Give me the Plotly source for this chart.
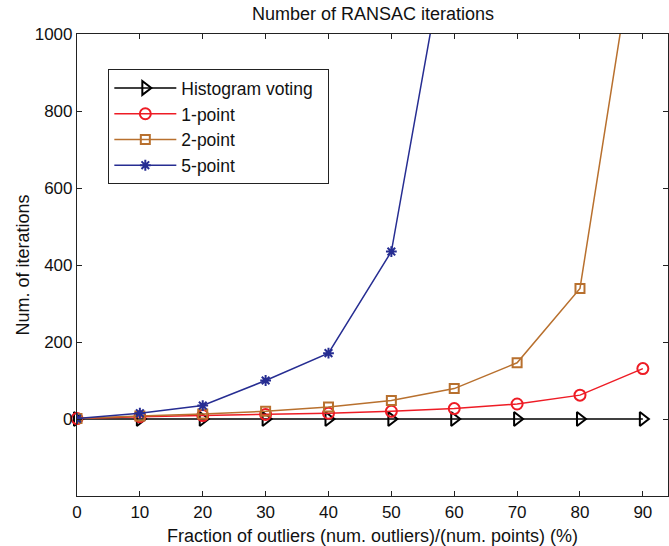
import plotly.graph_objects as go

x_vals = [0, 10, 20, 30, 40, 50, 60, 70, 80, 90]
hist_voting = [0, 0, 0, 0, 0, 0, 0, 0, 0, 0]
one_point = [1, 6, 9, 12, 15, 20, 27, 39, 62, 131]
two_point = [1, 8, 13, 20, 31, 48, 79, 146, 339, 1375]
five_point = [1, 15, 35, 100, 171, 435, 1350, 5700, 43000, 1400000]
y_ticks = [0, 200, 400, 600, 800, 1000]
x_ticks = [0, 10, 20, 30, 40, 50, 60, 70, 80, 90]

FONT = "Liberation Sans, Arial, sans-serif"

fig = go.Figure()
fig.add_trace(go.Scatter(x=x_vals, y=hist_voting, name="Histogram voting\u00a0\u00a0", mode="lines+markers",
                         line=dict(color="#000000", width=1.5),
                         marker=dict(symbol="triangle-right-open", size=12, color="#000000",
                                     line=dict(width=2, color="#000000")),
                         cliponaxis=False))
fig.add_trace(go.Scatter(x=x_vals, y=one_point, name="1-point", mode="lines+markers",
                         line=dict(color="#ee1c25", width=1.5),
                         marker=dict(symbol="circle-open", size=11, color="#ee1c25",
                                     line=dict(width=2, color="#ee1c25")),
                         cliponaxis=False))
fig.add_trace(go.Scatter(x=x_vals, y=two_point, name="2-point", mode="lines+markers",
                         line=dict(color="#b8702e", width=1.5),
                         marker=dict(symbol="square-open", size=9, color="#b8702e",
                                     line=dict(width=2, color="#b8702e")),
                         cliponaxis=True))
fig.add_trace(go.Scatter(x=x_vals, y=five_point, name="5-point", mode="lines+markers",
                         line=dict(color="#262d92", width=1.5),
                         marker=dict(symbol="asterisk-open", size=9, color="#262d92",
                                     line=dict(width=2, color="#262d92")),
                         cliponaxis=True))

axis_common = dict(showline=True, linecolor="#222222", linewidth=1.2, mirror="ticks",
                   ticks="inside", ticklen=5, tickcolor="#222222", showgrid=False,
                   zeroline=False, automargin=False,
                   tickfont=dict(family=FONT, size=17, color="#111111"))

fig.update_layout(
    width=669, height=546,
    margin=dict(l=77, r=1, t=34, b=50),
    paper_bgcolor="white", plot_bgcolor="white",
    title=dict(text="Number of RANSAC iterations", x=373 / 669, xref="container", xanchor="center",
               y=1 - 14 / 546, yref="container", yanchor="middle",
               font=dict(family=FONT, size=18, color="#111111")),
    xaxis=dict(range=[0, 94], tickvals=x_ticks,
               title=dict(text="Fraction of outliers (num. outliers)/(num. points) (%)",
                          font=dict(family=FONT, size=18, color="#111111"), standoff=8),
               **axis_common),
    yaxis=dict(range=[-200, 1000], tickvals=y_ticks,
               title=dict(text="Num. of iterations",
                          font=dict(family=FONT, size=18, color="#111111"), standoff=0),
               **axis_common),
    legend=dict(x=0.053, y=0.924, xanchor="left", yanchor="top",
                bgcolor="white", bordercolor="#222222", borderwidth=1,
                font=dict(family=FONT, size=17.5, color="#111111"),
                itemwidth=62, tracegroupgap=0),
    showlegend=True,
)

# remove the page's default 8px body margin so the figure fills the window exactly
fig.write_html("out.html", config={"displayModeBar": False},
               post_script="document.body.style.margin='0';")
